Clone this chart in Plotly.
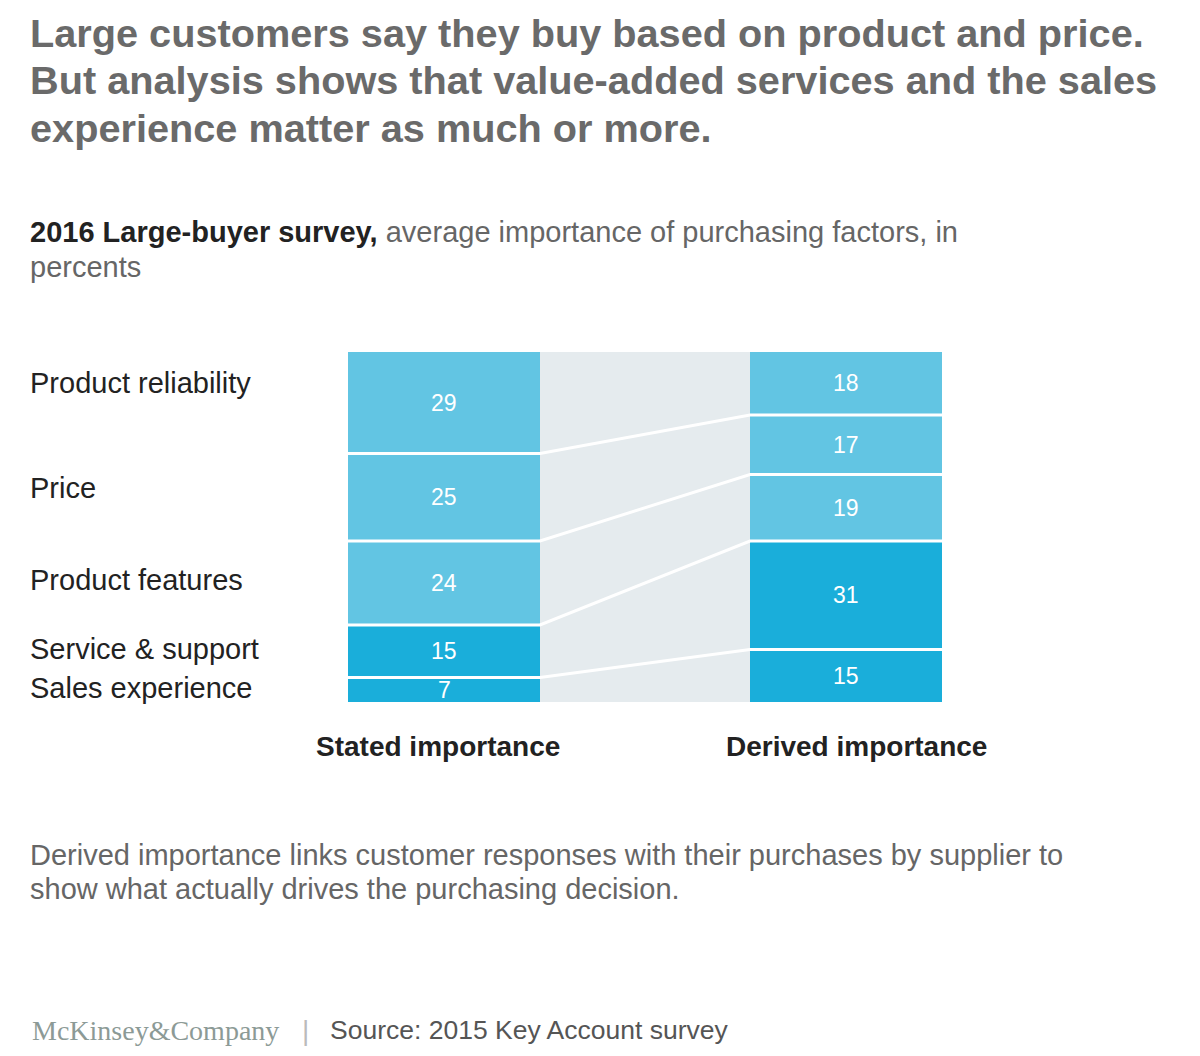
import plotly.graph_objects as go

# ---- data ----
factors = ["Product reliability", "Price", "Product features", "Service & support", "Sales experience"]
stated = [29, 25, 24, 15, 7]
derived = [18, 17, 19, 31, 15]
groups = ["Stated importance", "Derived importance"]
colors = ["#62C5E3", "#62C5E3", "#62C5E3", "#1AAEDA", "#1AAEDA"]

# page body has an 8px margin; map reference pixel coords onto the figure
OFF = 8
FW, FH = 1200 - 2 * OFF, 1056 - 2 * OFF
def px(x): return (x - OFF) / FW
def py(y): return 1 - (y - OFF) / FH

bw = 192 / 402  # bar width in x units (centers at 0 and 1)
FONT = "Liberation Sans"

fig = go.Figure()

# stacked bars, bottom first
for i in reversed(range(len(factors))):
    fig.add_trace(go.Bar(
        x=[0, 1], y=[stated[i], derived[i]], width=bw,
        marker=dict(color=colors[i], line=dict(width=0)),
        name=factors[i], showlegend=False, hoverinfo="skip",
    ))

def cum_from_bottom(vals):
    out, s = [], 0
    for v in reversed(vals):
        out.append((s, s + v))
        s += v
    return list(reversed(out))  # same order as factors

cs = cum_from_bottom(stated)
cd = cum_from_bottom(derived)

# value labels
for i in range(len(factors)):
    for xi, seg, val in [(0, cs[i], stated[i]), (1, cd[i], derived[i])]:
        fig.add_annotation(x=xi, y=(seg[0] + seg[1]) / 2, xref="x", yref="y",
                           xanchor="center", yanchor="middle",
                           text=str(val), showarrow=False,
                           font=dict(family=FONT, size=23, color="white"))

# separator + connector lines
for i in range(1, len(factors)):
    ys = cs[i][1]
    yd = cd[i][1]
    fig.add_trace(go.Scatter(
        x=[-bw / 2, bw / 2, 1 - bw / 2, 1 + bw / 2],
        y=[ys, ys, yd, yd], mode="lines",
        line=dict(color="white", width=3), showlegend=False, hoverinfo="skip",
    ))

# gray band
fig.add_shape(type="rect", xref="x", yref="y", x0=bw / 2, x1=1 - bw / 2,
              y0=0, y1=sum(stated), fillcolor="#E5EBEE", line=dict(width=0), layer="below")

def note(x, y, text, size, color, family=FONT, xanchor="left"):
    fig.add_annotation(x=px(x), y=py(y), xref="paper", yref="paper",
                       xanchor=xanchor, yanchor="middle", text=text, showarrow=False,
                       font=dict(family=family, size=size, color=color))

# factor labels on left (near stated segment centers)
label_shift = [20, 9, 3, 2, 2]
for i, f in enumerate(factors):
    fig.add_annotation(x=px(28), xref="paper", xanchor="left", yanchor="middle",
                       y=(cs[i][0] + cs[i][1]) / 2, yref="y", yshift=label_shift[i],
                       text=f, showarrow=False,
                       font=dict(family=FONT, size=29, color="#222222"))

# group labels
for gx, g in zip([438, 856], groups):
    note(gx, 746, "<b>" + g + "</b>", 28, "#222222", xanchor="center")

# title
title_lines = ["Large customers say they buy based on product and price.",
               "But analysis shows that value-added services and the sales",
               "experience matter as much or more."]
for ty, t in zip([33, 80, 128], title_lines):
    note(28, ty, "<b>" + t + "</b>", 39.7, "#6a6a6a")

# subtitle
note(28, 232, "<b>2016 Large-buyer survey,</b> <span style='color:#666666'>average importance of purchasing factors, in</span>",
     29, "#222222")
note(28, 267, "percents", 29, "#666666")

# footnote
for fy, t in zip([855, 889], ["Derived importance links customer responses with their purchases by supplier to",
                              "show what actually drives the purchasing decision."]):
    note(28, fy, t, 29, "#666666")

# footer
note(30, 1030, "McKinsey&Company", 28, "#8C9A96", family="Liberation Serif")
note(305, 1030, "|", 28, "#BBBBBB", xanchor="center")
note(328, 1030, "Source: 2015 Key Account survey", 26.5, "#555555")

fig.update_layout(
    width=FW, height=FH, barmode="stack", bargap=0,
    margin=dict(l=0, r=0, t=0, b=0),
    paper_bgcolor="white", plot_bgcolor="white",
    xaxis=dict(domain=[px(348), px(942)], range=[-bw / 2, 1 + bw / 2],
               visible=False, fixedrange=True),
    yaxis=dict(domain=[py(702), py(352)], range=[0, 100], visible=False, fixedrange=True),
    showlegend=False,
)

fig.write_html("out.html")
